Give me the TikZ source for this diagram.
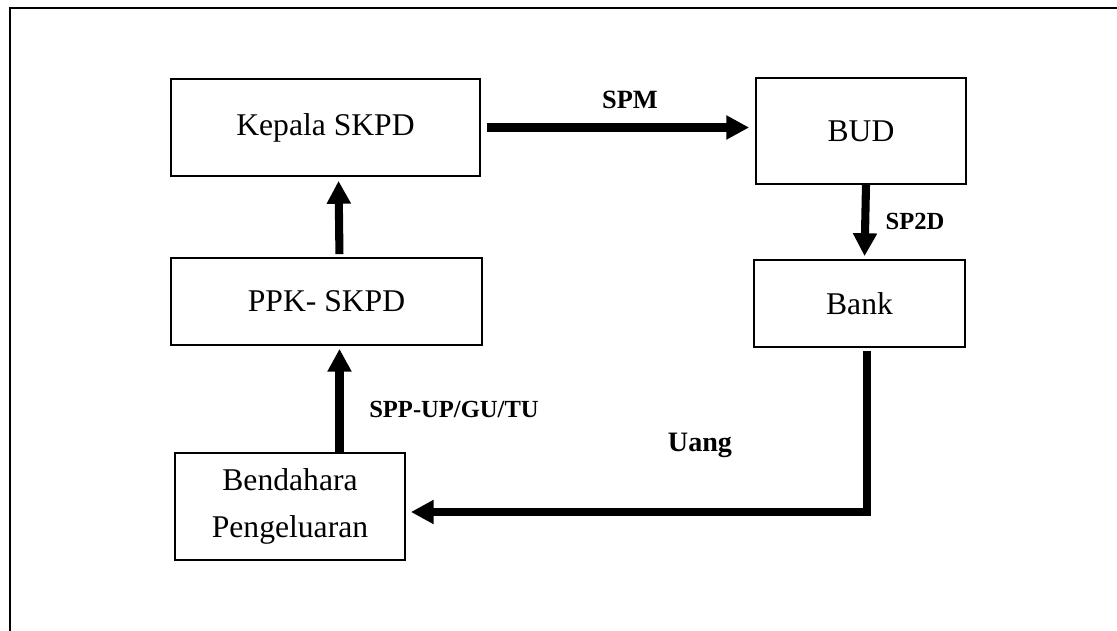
\documentclass[tikz,border=0pt]{standalone}
\usepackage{fontspec}
\setmainfont{Liberation Serif}
\usetikzlibrary{arrows.meta}

\tikzset{
  kotak/.style={draw, line width=1pt, inner sep=0pt, align=center,
    font=\fontsize{18}{26.6}\selectfont},
  panah/.style={line width=4.6pt, line join=miter,
    -{Triangle[length=13pt,width=13pt]}},
  ket/.style={font=\fontsize{14}{16}\selectfont\bfseries}
}

\begin{document}
\begin{tikzpicture}[x=0.02cm, y=-0.02cm]

\useasboundingbox (0,0) rectangle (1117,631);
\draw[line width=1pt] (10,631) -- (10,8) -- (1117,8);

\node[kotak, minimum width=309*0.02cm, minimum height=97*0.02cm] (kepala) at (325.5,127.5) {Kepala SKPD};
\node[kotak, minimum width=210*0.02cm, minimum height=106*0.02cm] (bud) at (861,131) {BUD};
\node[kotak, minimum width=311*0.02cm, minimum height=87*0.02cm] (ppk) at (326.5,301.5) {PPK- SKPD};
\node[kotak, minimum width=211*0.02cm, minimum height=87*0.02cm] (bank) at (859.5,303.5) {Bank};
\node[kotak, minimum width=230*0.02cm, minimum height=107*0.02cm] (bendahara) at (290,506.5) {Bendahara\\Pengeluaran};

\draw[panah, shorten <=0.12cm, shorten >=0.12cm] (kepala.east) -- (kepala.east -| bud.west);
\node[ket, font=\fontsize{15}{17}\selectfont\bfseries] (spm) at (630,100) {SPM};

\draw[panah, shorten >=0.06cm] ([xshift=0.1cm]bud.south) -- ([xshift=0.1cm]bank.north);
\node[ket] (sp2d) at (915,221) {SP2D};

\draw[panah, shorten <=0.06cm, shorten >=0.08cm] ([xshift=0.26cm]ppk.north) -- ([xshift=0.26cm]kepala.south);

\draw[panah, shorten >=0.06cm] ([xshift=0.26cm]bendahara.north -| ppk.north) -- ([xshift=0.26cm]ppk.south);
\node[ket] (spp) at (454,409) {SPP-UP/GU/TU};

\coordinate (belok) at (867,512);
\draw[panah, shorten <=0.06cm, shorten >=0.1cm] (bank.south -| belok) -- (belok) -- (belok -| bendahara.east);
\node[ket, font=\fontsize{16}{18}\selectfont\bfseries] (uang) at (700,445) {Uang};

\end{tikzpicture}
\end{document}
